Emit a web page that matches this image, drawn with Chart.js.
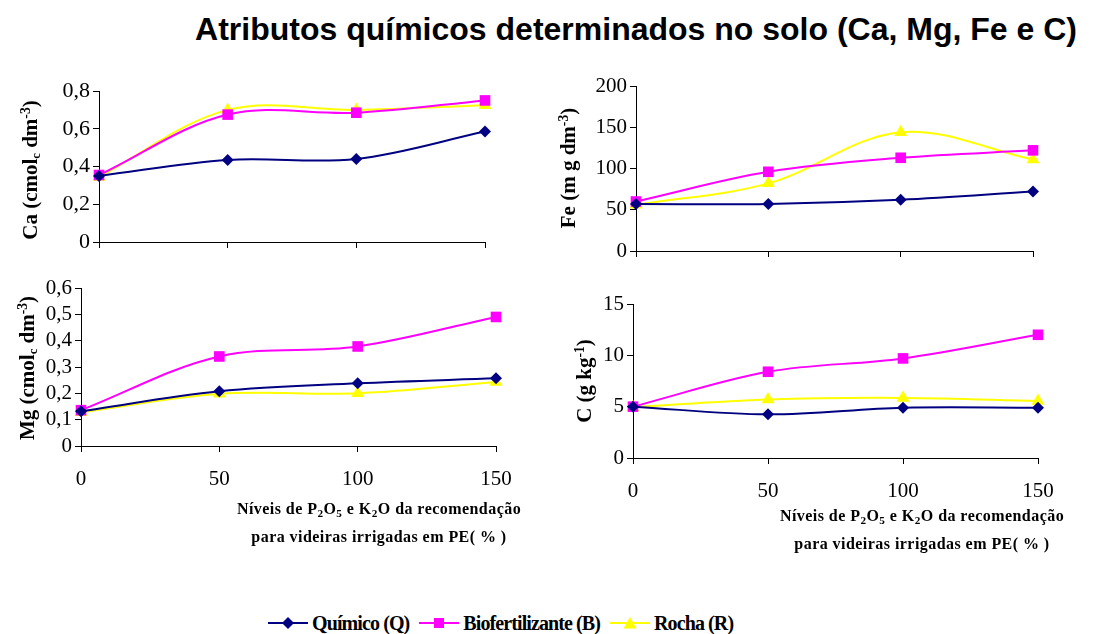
<!DOCTYPE html>
<html lang="pt">
<head>
<meta charset="utf-8">
<title>Atributos químicos determinados no solo</title>
<script src="https://cdn.jsdelivr.net/npm/chart.js@4.4.1/dist/chart.umd.min.js"></script>
<style>
	body { margin: 0; background: #fff; }
	#page { position: relative; width: 1093px; height: 634px; overflow: hidden; font-family: 'Liberation Serif', 'Times New Roman', serif; color: #000; }
	#page canvas { position: absolute; }
	#title { position: absolute; left: 136px; width: 1000px; top: 11px; text-align: center; font: bold 32px 'Liberation Sans', Arial, sans-serif; line-height: 36px; white-space: nowrap; }
	.ytitle { position: absolute; width: 0; height: 0; }
	.ytitle span { position: absolute; left: 0; top: 0; transform: translate(-50%, -50%) rotate(-90deg); white-space: nowrap; font-weight: bold; font-size: 21px; line-height: 22px; }
	.ytitle sup { font-size: 0.65em; vertical-align: 0.55em; line-height: 0; }
	.ytitle sub { font-size: 0.6em; vertical-align: -0.2em; line-height: 0; }
	.xtitle { position: absolute; width: 400px; text-align: center; font-weight: bold; font-size: 16px; line-height: 28px; letter-spacing: 0.45px; white-space: nowrap; }
	.xtitle sub { font-size: 0.7em; vertical-align: -0.3em; line-height: 0; }
	#legend { position: absolute; left: 268px; top: 610px; display: flex; align-items: center; font-weight: bold; font-size: 20px; line-height: 26px; letter-spacing: -0.9px; white-space: nowrap; }
	#legend .item { display: flex; align-items: center; margin-right: 10px; }
	#legend svg { margin-right: 4px; }
</style>
</head>
<body>
<div id="page">
	<div id="title">Atributos químicos determinados no solo (Ca, Mg, Fe e C)</div>

	<canvas id="chartCa"></canvas>
	<canvas id="chartFe"></canvas>
	<canvas id="chartMg"></canvas>
	<canvas id="chartC"></canvas>

	<div class="ytitle" style="left:30px;top:170px"><span>Ca (cmol<sub>c</sub> dm<sup>-3</sup>)</span></div>
	<div class="ytitle" style="left:568px;top:168px"><span>Fe (m g dm<sup>-3</sup>)</span></div>
	<div class="ytitle" style="left:27px;top:368px"><span>Mg (cmol<sub>c</sub> dm<sup>-3</sup>)</span></div>
	<div class="ytitle" style="left:584px;top:381px"><span>C (g kg<sup>-1</sup>)</span></div>

	<div class="xtitle" style="left:179px;top:495px">Níveis de P<sub>2</sub>O<sub>5</sub> e K<sub>2</sub>O da recomendação<br>para videiras irrigadas em PE( % )</div>
	<div class="xtitle" style="left:722px;top:502px">Níveis de P<sub>2</sub>O<sub>5</sub> e K<sub>2</sub>O da recomendação<br>para videiras irrigadas em PE( % )</div>

	<div id="legend"></div>
</div>
<script>
// níveis de recomendação (%)
const levels = ['0', '50', '100', '150'];

const seriesNames = ['Químico (Q)', 'Biofertilizante (B)', 'Rocha (R)'];

const caQuimico = [0.35, 0.435, 0.44, 0.585];
const caBio = [0.355, 0.675, 0.685, 0.75];
const caRocha = [0.345, 0.70, 0.70, 0.725];

const feQuimico = [57, 57, 62, 72];
const feBio = [60, 96, 113, 122];
const feRocha = [56, 82, 144, 111];

const mgQuimico = [0.132, 0.208, 0.238, 0.257];
const mgBio = [0.136, 0.34, 0.378, 0.49];
const mgRocha = [0.128, 0.198, 0.2, 0.243];

const cQuimico = [5.0, 4.25, 4.9, 4.9];
const cBio = [5.0, 8.4, 9.7, 12.0];
const cRocha = [4.95, 5.7, 5.85, 5.55];

const caTicks = { min: 0, max: 0.8, step: 0.2 };
const feTicks = { min: 0, max: 200, step: 50 };
const mgTicks = { min: 0, max: 0.6, step: 0.1 };
const cTicks = { min: 0, max: 15, step: 5 };

const styles = [
	{ color: '#000080', point: 'rectRot', radius: 6 },
	{ color: '#ff00ff', point: 'rect', radius: 7.5 },
	{ color: '#ffff00', point: 'triangle', radius: 7.5 }
];

const fontFamily = "'Liberation Serif', 'Times New Roman', serif";

function decimalLabel(value, digits) {
	if (value === 0) {
		return '0';
	}

	return Number(value).toFixed(digits).replace('.', ',');
}

function buildDatasets(values) {
	return values.map((data, index) => ({
		label: seriesNames[index],
		data,
		borderColor: styles[index].color,
		backgroundColor: styles[index].color,
		borderWidth: 2,
		pointStyle: styles[index].point,
		pointRadius: styles[index].radius,
		pointBorderWidth: 0,
		tension: 0.35,
		clip: false
	}));
}

function makePanel(id, box, values, range, digits, showX, fontSize) {
	const padTop = 16;
	const padRight = 24;
	const yWidth = 62;
	const xHeight = showX ? 50 : 12;
	const canvas = document.getElementById(id);
	const width = box.right - box.left + yWidth + padRight;
	const height = box.bottom - box.top + padTop + xHeight;

	canvas.width = width;
	canvas.height = height;
	canvas.style.left = String(box.left - yWidth) + 'px';
	canvas.style.top = String(box.top - padTop) + 'px';
	canvas.style.width = String(width) + 'px';
	canvas.style.height = String(height) + 'px';

	const axisGrid = { drawOnChartArea: false, drawTicks: true, tickLength: 6, color: '#000', lineWidth: 1 };
	const axisBorder = { display: true, color: '#000', width: 1 };

	return new Chart(canvas.getContext('2d'), {
		type: 'line',
		data: {
			labels: levels,
			datasets: buildDatasets(values)
		},
		options: {
			responsive: false,
			animation: false,
			devicePixelRatio: 1,
			layout: { padding: { top: padTop, right: padRight, left: 0, bottom: 0 } },
			plugins: { legend: { display: false }, tooltip: { enabled: false } },
			scales: {
				x: {
					type: 'category',
					offset: false,
					grid: axisGrid,
					border: axisBorder,
					ticks: {
						display: showX,
						color: '#000',
						padding: 15,
						maxRotation: 0,
						autoSkip: false,
						font: { family: fontFamily, size: 21 }
					},
					afterFit(scale) {
						scale.height = xHeight;
						scale.paddingLeft = 0;
						scale.paddingRight = 0;
					}
				},
				y: {
					min: range.min,
					max: range.max,
					grid: axisGrid,
					border: axisBorder,
					ticks: {
						stepSize: range.step,
						autoSkip: false,
						color: '#000',
						padding: 3,
						font: { family: fontFamily, size: fontSize },
						callback: (value) => decimalLabel(value, digits)
					},
					afterFit(scale) {
						scale.width = yWidth;
						scale.paddingTop = 0;
						scale.paddingBottom = 0;
					}
				}
			}
		}
	});
}

function markerSvg(style) {
	const c = style.color;
	let shape = '';

	if (style.point === 'rectRot') {
		shape = '<polygon points="20,1 26,7 20,13 14,7" fill="' + c + '"/>';
	} else if (style.point === 'rect') {
		shape = '<rect x="15" y="2" width="10" height="10" fill="' + c + '"/>';
	} else {
		shape = '<polygon points="20,1 26.5,12.5 13.5,12.5" fill="' + c + '"/>';
	}

	return '<svg width="40" height="14" viewBox="0 0 40 14"><line x1="0" y1="7" x2="40" y2="7" stroke="' + c + '" stroke-width="2"/>' + shape + '</svg>';
}

function buildLegend() {
	const legend = document.getElementById('legend');

	legend.innerHTML = seriesNames.map((name, index) => '<span class="item">' + markerSvg(styles[index]) + '<span>' + name + '</span></span>').join('');
}

makePanel('chartCa', { left: 99, top: 91, right: 485, bottom: 242 }, [caQuimico, caBio, caRocha], caTicks, 1, false, 22);
makePanel('chartFe', { left: 636, top: 86, right: 1033, bottom: 251 }, [feQuimico, feBio, feRocha], feTicks, 0, false, 21);
makePanel('chartMg', { left: 81, top: 288, right: 496, bottom: 446 }, [mgQuimico, mgBio, mgRocha], mgTicks, 1, true, 21);
makePanel('chartC', { left: 633, top: 304, right: 1038, bottom: 458 }, [cQuimico, cBio, cRocha], cTicks, 0, true, 21);
buildLegend();
</script>
</body>
</html>
